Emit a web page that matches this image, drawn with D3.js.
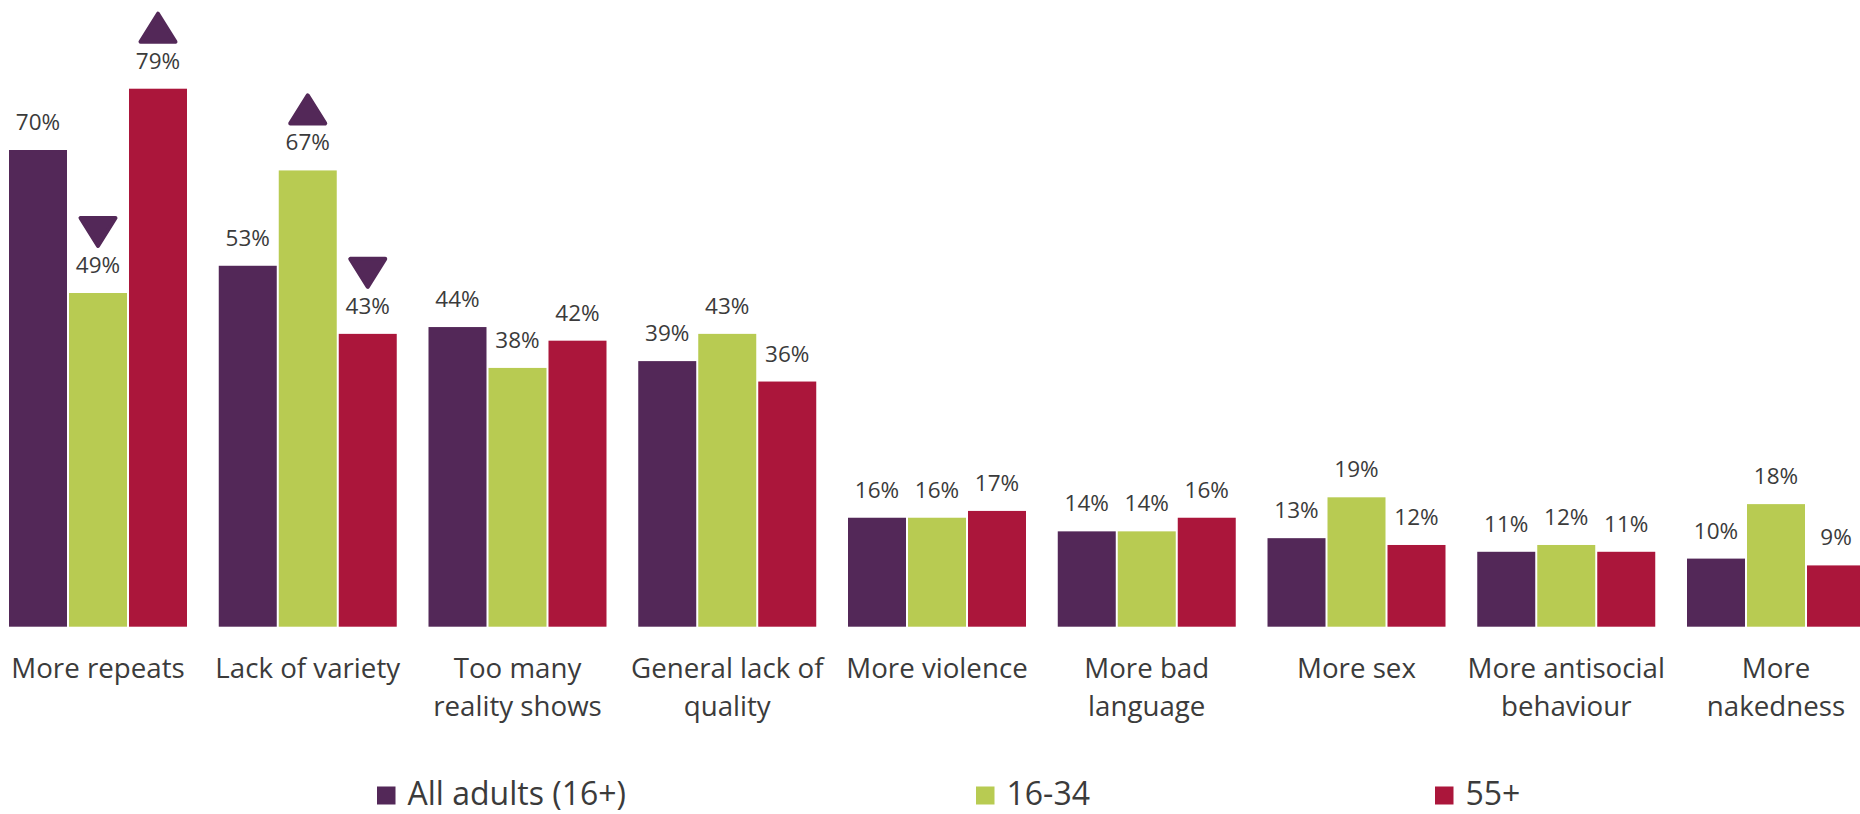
<!DOCTYPE html>
<html>
<head>
<meta charset="utf-8">
<script src="https://cdn.jsdelivr.net/npm/d3@7"></script>
<style>
  html, body { margin: 0; padding: 0; background: #ffffff; }
  svg { display: block; }
  text { font-family: "Open Sans", Lato, sans-serif; fill: #3b3b3b; }
</style>
</head>
<body>
<svg id="chart" width="1860" height="814"></svg>
<script>
// Categories (each entry holds the wrapped lines of the axis label)
const categories = [
  ["More repeats"],
  ["Lack of variety"],
  ["Too many", "reality shows"],
  ["General lack of", "quality"],
  ["More violence"],
  ["More bad", "language"],
  ["More sex"],
  ["More antisocial", "behaviour"],
  ["More", "nakedness"]
];

const seriesNames = ["All adults (16+)", "16-34", "55+"];
const seriesColors = ["#532858", "#b8cb52", "#ab163b"];

// Percentages per series, in category order
const allAdults = [70, 53, 44, 39, 16, 14, 13, 11, 10];
const age16to34 = [49, 67, 38, 43, 16, 14, 19, 12, 18];
const age55plus = [79, 43, 42, 36, 17, 16, 12, 11, 9];

// Significance markers vs. all adults: "up", "down" or null
const marks16to34 = ["down", "up", null, null, null, null, null, null, null];
const marks55plus = ["up", "down", null, null, null, null, null, null, null];
const marksAll    = [null, null, null, null, null, null, null, null, null];

const seriesValues = [allAdults, age16to34, age55plus];
const seriesMarks = [marksAll, marks16to34, marks55plus];

const svg = d3.select("#chart");

const baseline = 626.7;

const x0 = d3.scaleBand()
  .domain(d3.range(categories.length))
  .range([9, 1865])
  .paddingInner(0.1514)
  .paddingOuter(0);

const x1 = d3.scaleBand()
  .domain(d3.range(seriesNames.length))
  .range([0, x0.bandwidth()])
  .paddingInner(0.0333)
  .paddingOuter(0);

const y = d3.scaleLinear()
  .domain([0, 80])
  .range([baseline, baseline - 80 * 6.81]);

// Flatten into one record per bar
const bars = [];
categories.forEach((c, i) => {
  seriesNames.forEach((s, j) => {
    bars.push({ cat: i, series: j, value: seriesValues[j][i], mark: seriesMarks[j][i] });
  });
});

const g = svg.append("g");

g.selectAll("rect.bar")
  .data(bars)
  .join("rect")
  .attr("class", "bar")
  .attr("x", d => x0(d.cat) + x1(d.series))
  .attr("y", d => y(d.value))
  .attr("width", x1.bandwidth())
  .attr("height", d => baseline - y(d.value))
  .attr("fill", d => seriesColors[d.series]);

// Value labels
g.selectAll("text.val")
  .data(bars)
  .join("text")
  .attr("class", "val")
  .attr("x", d => x0(d.cat) + x1(d.series) + x1.bandwidth() / 2)
  .attr("y", d => y(d.value) - 20)
  .attr("text-anchor", "middle")
  .style("font-size", "22.5px")
  .text(d => d.value + "%");

// Significance triangles with rounded corners
const triW = 35, triH = 28;
function trianglePath(dir) {
  const pts = dir === "up"
    ? [[0, -triH], [triW / 2, 0], [-triW / 2, 0]]
    : [[-triW / 2, -triH], [triW / 2, -triH], [0, 0]];
  return "M" + pts.map(p => p.join(",")).join("L") + "Z";
}

g.selectAll("path.mark")
  .data(bars.filter(d => d.mark))
  .join("path")
  .attr("class", "mark")
  .attr("transform", d => `translate(${x0(d.cat) + x1(d.series) + x1.bandwidth() / 2},${y(d.value) - 20 - 27})`)
  .attr("d", d => trianglePath(d.mark))
  .attr("fill", "#532858")
  .attr("stroke", "#532858")
  .attr("stroke-width", 4)
  .attr("stroke-linejoin", "round");

// Category labels
const catG = g.selectAll("text.cat")
  .data(categories)
  .join("text")
  .attr("class", "cat")
  .attr("text-anchor", "middle")
  .style("font-size", "27.7px")
  .attr("x", (d, i) => x0(i) + x0.bandwidth() / 2)
  .attr("y", 677.5);

catG.selectAll("tspan")
  .data(d => d)
  .join("tspan")
  .attr("x", function () { return d3.select(this.parentNode).attr("x"); })
  .attr("dy", (d, i) => i === 0 ? 0 : 38)
  .text(d => d);

// Legend
const legendX = [377, 976, 1435];
const legend = svg.append("g")
  .selectAll("g")
  .data(seriesNames)
  .join("g")
  .attr("transform", (d, i) => `translate(${legendX[i]},804.5)`);

legend.append("rect")
  .attr("x", 0)
  .attr("y", -18)
  .attr("width", 18.5)
  .attr("height", 18)
  .attr("fill", (d, i) => seriesColors[i]);

legend.append("text")
  .attr("x", 30.5)
  .attr("y", 0)
  .style("font-size", "32px")
  .text(d => d);
</script>
</body>
</html>
